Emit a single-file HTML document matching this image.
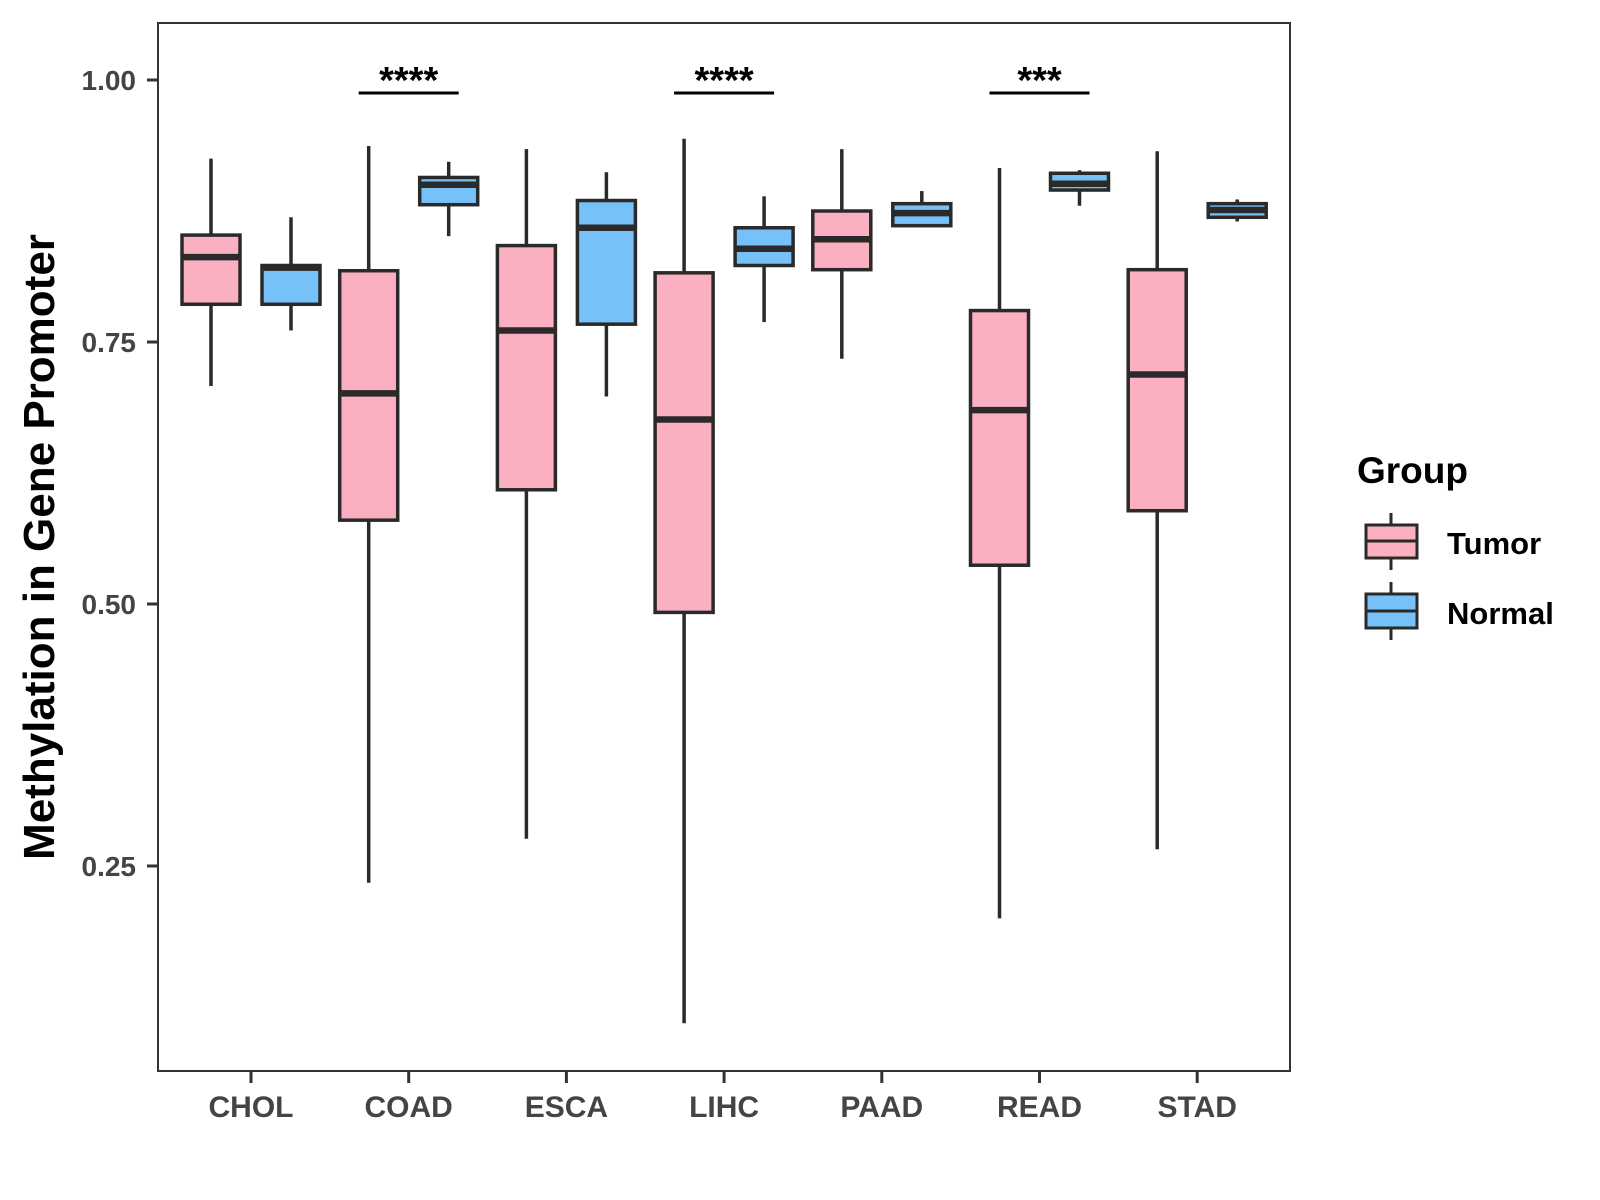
<!DOCTYPE html>
<html><head><meta charset="utf-8"><style>
html,body{margin:0;padding:0;background:#fff;}
svg{display:block;font-family:"Liberation Sans",Arial,sans-serif;}
</style></head><body>
<svg id="chart" width="1600" height="1200" viewBox="0 0 1600 1200" xmlns="http://www.w3.org/2000/svg">
<rect x="0" y="0" width="1600" height="1200" fill="#fff"/>
<g id="marks"></g>
<rect x="158" y="23" width="1132" height="1048" fill="none" stroke="#333" stroke-width="2"/>
<g id="axes"></g>
<text transform="translate(54,547) rotate(-90)" text-anchor="middle" font-size="44" font-weight="bold" fill="#000">Methylation in Gene Promoter</text>
<g>
<text x="1357" y="483" font-size="37" font-weight="bold" fill="#000">Group</text>
<g>
<line x1="1391" y1="513" x2="1391" y2="570" stroke="#2a2a2a" stroke-width="3"/>
<rect x="1366" y="525" width="51" height="33" fill="#FBB0C1" stroke="#2a2a2a" stroke-width="3"/>
<line x1="1366" y1="541" x2="1417" y2="541" stroke="#2a2a2a" stroke-width="3"/>
<text x="1447" y="554" font-size="31" font-weight="bold" fill="#000">Tumor</text>
</g>
<g>
<line x1="1391" y1="582" x2="1391" y2="640" stroke="#2a2a2a" stroke-width="3"/>
<rect x="1366" y="594" width="51" height="34" fill="#76C1F7" stroke="#2a2a2a" stroke-width="3"/>
<line x1="1366" y1="611" x2="1417" y2="611" stroke="#2a2a2a" stroke-width="3"/>
<text x="1447" y="624" font-size="31" font-weight="bold" fill="#000">Normal</text>
</g>
</g>
</svg>
<script>
const categories = ["CHOL","COAD","ESCA","LIHC","PAAD","READ","STAD"];
// [low, q1, median, q3, high]
const tumorStats = [
 [0.708,0.786,0.831,0.852,0.925],
 [0.234,0.580,0.701,0.818,0.937],
 [0.276,0.609,0.761,0.842,0.934],
 [0.100,0.492,0.676,0.816,0.944],
 [0.734,0.819,0.848,0.875,0.934],
 [0.200,0.537,0.685,0.780,0.916],
 [0.266,0.589,0.719,0.819,0.932]
];
const normalStats = [
 [0.761,0.786,0.821,0.823,0.869],
 [0.851,0.881,0.900,0.907,0.922],
 [0.698,0.767,0.859,0.885,0.912],
 [0.769,0.823,0.839,0.859,0.889],
 [0.860,0.861,0.873,0.882,0.894],
 [0.880,0.895,0.901,0.911,0.914],
 [0.865,0.869,0.876,0.882,0.886]
];
const yTicks = [0.25,0.50,0.75,1.00];
const yTickLabels = ["0.25","0.50","0.75","1.00"];
const sigCategories = ["COAD","LIHC","READ"];
const sigLabels = ["****","****","***"];

const NS = "http://www.w3.org/2000/svg";
function yScale(v){ return 80 + (1 - v) * 1048; }
function xScale(i){ return 251 + i * 157.7; }
function mk(tag, attrs, parent){
  const e = document.createElementNS(NS, tag);
  for (const k in attrs) e.setAttribute(k, attrs[k]);
  parent.appendChild(e); return e;
}
const marks = document.getElementById("marks");
const axes = document.getElementById("axes");
const stroke = "#2a2a2a";
function drawBox(s, cx, fill, name){
  const g = mk("g", {}, marks);
  
  
  const hw = 29;
  mk("line", {x1:cx, x2:cx, y1:yScale(s[4]), y2:yScale(s[3]), stroke:stroke, "stroke-width":3.5}, g);
  mk("line", {x1:cx, x2:cx, y1:yScale(s[1]), y2:yScale(s[0]), stroke:stroke, "stroke-width":3.5}, g);
  mk("rect", {x:cx-hw, y:yScale(s[3]), width:2*hw, height:Math.max(yScale(s[1])-yScale(s[3]),1), fill:fill, stroke:stroke, "stroke-width":3.5}, g);
  mk("line", {x1:cx-hw, x2:cx+hw, y1:yScale(s[2]), y2:yScale(s[2]), stroke:stroke, "stroke-width":6.5}, g);
}
categories.forEach((c, i) => {
  const cx = xScale(i);
  drawBox(tumorStats[i], cx - 40, "#FBB0C1", "box-tumor-" + c.toLowerCase());
  drawBox(normalStats[i], cx + 40, "#76C1F7", "box-normal-" + c.toLowerCase());
  const t = mk("line", {x1:cx, x2:cx, y1:1071, y2:1083, stroke:"#333", "stroke-width":3}, axes);
  
  
  const lbl = mk("text", {x:cx, y:1117, "text-anchor":"middle", "font-size":30, "font-weight":"bold", fill:"#444"}, axes);
  lbl.textContent = c;
  
  
});
yTicks.forEach((v, i) => {
  const y = yScale(v);
  const t = mk("line", {x1:147, x2:158, y1:y, y2:y, stroke:"#333", "stroke-width":3}, axes);
  
  
  const lbl = mk("text", {x:136, y:y+10, "text-anchor":"end", "font-size":28, "font-weight":"bold", fill:"#444"}, axes);
  lbl.textContent = yTickLabels[i];
  
  
});
sigCategories.forEach((c, k) => {
  const cx = xScale(categories.indexOf(c));
  const l = mk("line", {x1:cx-50, x2:cx+50, y1:93, y2:93, stroke:"#000", "stroke-width":3}, marks);
  
  
  const t = mk("text", {x:cx, y:93, "text-anchor":"middle", "font-size":38, "font-weight":"bold", fill:"#000"}, marks);
  t.textContent = sigLabels[k];
  
  
});
</script>
</body></html>
